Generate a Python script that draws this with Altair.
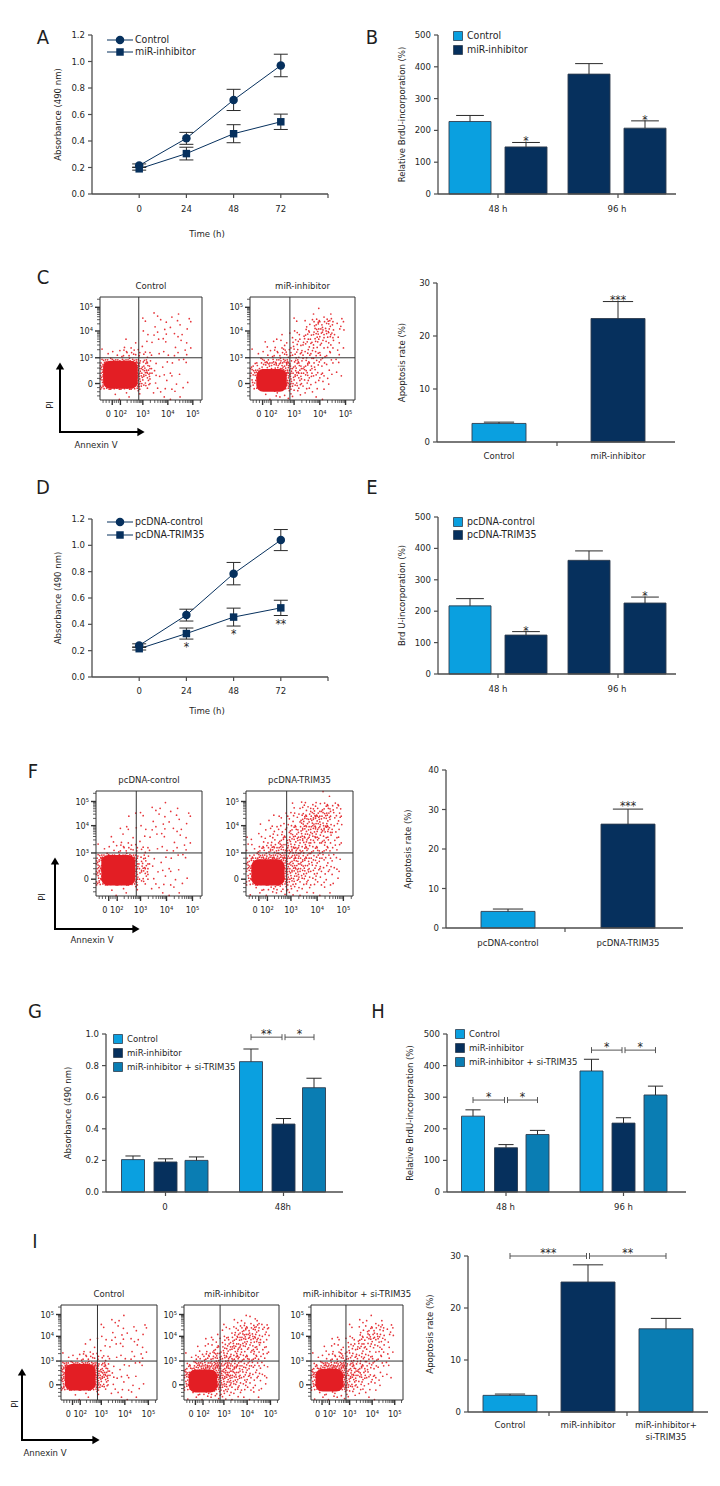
import math
import altair as alt
import pandas as pd

# ================= values =================
time_h = [0, 24, 48, 72]

# A: absorbance, miR-inhibitor
a_series = ["Control", "miR-inhibitor"]
a_mean = [[0.215, 0.42, 0.71, 0.97], [0.19, 0.305, 0.455, 0.545]]
a_err = [[0.012, 0.045, 0.08, 0.085], [0.01, 0.048, 0.068, 0.058]]

# B: BrdU incorporation
b_groups = ["48 h", "96 h"]
b_series = ["Control", "miR-inhibitor"]
b_mean = [[228, 148], [377, 207]]
b_err = [[19, 14], [33, 23]]
b_sig = [["", "*"], ["", "*"]]

# C: apoptosis rate
c_groups = ["Control", "miR-inhibitor"]
c_mean = [3.5, 23.3]
c_err = [0.25, 3.2]
c_sig = ["", "***"]

# D: absorbance, TRIM35 overexpression
d_series = ["pcDNA-control", "pcDNA-TRIM35"]
d_mean = [[0.24, 0.47, 0.785, 1.04], [0.215, 0.33, 0.455, 0.525]]
d_err = [[0.012, 0.045, 0.085, 0.08], [0.01, 0.042, 0.068, 0.058]]
d_sig = ["", "*", "*", "**"]

# E: BrdU incorporation
e_groups = ["48 h", "96 h"]
e_series = ["pcDNA-control", "pcDNA-TRIM35"]
e_mean = [[217, 124], [362, 226]]
e_err = [[23, 11], [30, 19]]
e_sig = [["", "*"], ["", "*"]]

# F: apoptosis rate
f_groups = ["pcDNA-control", "pcDNA-TRIM35"]
f_mean = [4.2, 26.3]
f_err = [0.6, 3.8]
f_sig = ["", "***"]

# G: absorbance, rescue
g_groups = ["0", "48h"]
g_series = ["Control", "miR-inhibitor", "miR-inhibitor + si-TRIM35"]
g_mean = [[0.205, 0.19, 0.2], [0.825, 0.43, 0.66]]
g_err = [[0.023, 0.02, 0.022], [0.08, 0.035, 0.06]]
g_sig = [None, ["**", "*"]]
g_sig_level = [None, 0.98]

# H: BrdU, rescue
h_groups = ["48 h", "96 h"]
h_series = ["Control", "miR-inhibitor", "miR-inhibitor + si-TRIM35"]
h_mean = [[240, 140, 182], [383, 218, 307]]
h_err = [[20, 10, 13], [37, 17, 28]]
h_sig = [["*", "*"], ["*", "*"]]
h_sig_level = [291, 449]

# I: apoptosis rate, rescue
i_groups = [["Control"], ["miR-inhibitor"], ["miR-inhibitor+", "si-TRIM35"]]
i_mean = [3.2, 25.0, 16.0]
i_err = [0.25, 3.3, 2.0]
i_sig = ["***", "**"]
i_sig_level = 30

# flow cytometry: dot density read by eye (rows top -> bottom, 0 empty .. 9 dense)
flow_c_ctrl = ["0000000000", "0000010100", "0000111110", "0000111110", "0011111110",
               "1233211110", "7999511110", "9999621100", "6999411110", "0111011100"]
flow_c_inh = ["0000000000", "0000001100", "0000124420", "0001235520", "0122344310",
              "1234443210", "3567543210", "5789543210", "4688432100", "0122211000"]
flow_f_ctrl = ["0000000000", "0000011100", "0001111110", "0011111110", "0111111110",
               "1233211110", "7999411110", "9999511100", "6999311110", "0111011100"]
flow_f_trim = ["0000000100", "0000134430", "0012356530", "0123456630", "1234565420",
               "2456654320", "5789654320", "6899654320", "5788543210", "1233321100"]
flow_i_ctrl = ["0000000000", "0000011000", "0000111110", "0001111110", "0011111110",
               "1233211110", "7999511110", "9999621100", "6999411110", "0111011100"]
flow_i_inh = ["0000000000", "0000012200", "0000234430", "0012345530", "0123454420",
              "1345554320", "4678654320", "6899654320", "5788543210", "1233321100"]
flow_i_si = ["0000000000", "0000011100", "0000123320", "0011234420", "0122343310",
             "1234443210", "4678543210", "6899543210", "5788432100", "1222211000"]
# solid cores of the live-cell populations: x0, x1, y0, y1 (percent of plot box)
core_c_ctrl = [3, 37, 11, 38]
core_c_inh = [6, 35, 8, 30]
core_f_ctrl = [5, 37, 10, 39]
core_f_trim = [5, 36, 10, 35]
core_i_ctrl = [4, 36, 10, 38]
core_i_inh = [5, 35, 8, 32]
core_i_si = [5, 35, 9, 33]

# ================= styles =================
OX = OY = 8
FONT = "DejaVu Sans Condensed, Liberation Sans Narrow, sans-serif"
FS = 9.5
LFS = 10.5
AXC = "#4d4d4d"
TXT = "#1f1f1f"
NV = "#06305d"
LB = "#0aa0e0"
MB = "#0a7db3"
RED = "#e31e24"
BSTROKE = "#2f3d4f"
ERRC = "#2a2a2a"
DOTS = [0, 2, 4, 7, 10, 14, 18, 21, 24, 24]
PATTERN = [(0.15, 0.2), (0.6, 0.7), (0.85, 0.3), (0.35, 0.85), (0.5, 0.4), (0.1, 0.6),
           (0.75, 0.9), (0.9, 0.6), (0.3, 0.45), (0.65, 0.15), (0.45, 0.65), (0.2, 0.95),
           (0.8, 0.5), (0.05, 0.35), (0.55, 0.9), (0.4, 0.1), (0.95, 0.8), (0.25, 0.7),
           (0.7, 0.35), (0.05, 0.05), (0.5, 0.55), (0.9, 0.05), (0.3, 0.3), (0.65, 0.6)]

layers = []


class Panel:
    def __init__(self, xpx, ypx, xdom, ydom):
        self.xpx, self.ypx, self.xdom, self.ydom = xpx, ypx, xdom, ydom
        self.sx = alt.Scale(domain=list(xdom), range=[xpx[0] - OX, xpx[1] - OX], nice=False, zero=False)
        self.sy = alt.Scale(domain=list(ydom), range=[ypx[0] - OY, ypx[1] - OY], nice=False, zero=False)

    def fx(self, px):
        return self.xdom[0] + (px - self.xpx[0]) * (self.xdom[1] - self.xdom[0]) / (self.xpx[1] - self.xpx[0])

    def fy(self, py):
        return self.ydom[0] + (py - self.ypx[0]) * (self.ydom[1] - self.ydom[0]) / (self.ypx[1] - self.ypx[0])

    def lx(self, n):
        return n * (self.xdom[1] - self.xdom[0]) / (self.xpx[1] - self.xpx[0])

    def ly(self, n):
        return n * (self.ydom[1] - self.ydom[0]) / (self.ypx[0] - self.ypx[1])

    def X(self, f):
        return alt.X(f, type="quantitative", scale=self.sx, axis=None)

    def Y(self, f):
        return alt.Y(f, type="quantitative", scale=self.sy, axis=None)

    def seg(self, rows, color=AXC, width=1.0):
        if not rows:
            return
        df = pd.DataFrame(rows, columns=["x", "y", "x2", "y2"])
        layers.append(alt.Chart(df).mark_rule(color=color, strokeWidth=width).encode(
            x=self.X("x"), y=self.Y("y"), x2="x2", y2="y2"))

    def rect(self, rows, stroke=None, sw=0.8, radius=0):
        if not rows:
            return
        df = pd.DataFrame(rows, columns=["x", "x2", "y", "y2", "c", "o"])
        kw = {}
        if stroke:
            kw = dict(stroke=stroke, strokeWidth=sw)
        if radius:
            kw["cornerRadius"] = radius
        layers.append(alt.Chart(df).mark_rect(**kw).encode(
            x=self.X("x"), x2="x2", y=self.Y("y"), y2="y2",
            color=alt.Color("c:N", scale=None), opacity=alt.Opacity("o:Q", scale=None)))

    def text(self, rows, size=FS, align="center", baseline="middle", dx=0, dy=0, angle=0,
             color=TXT, weight="normal"):
        df = pd.DataFrame(rows, columns=["x", "y", "t"])
        kw = dict(font=FONT, fontSize=size, align=align, baseline=baseline, dx=dx, dy=dy,
                  color=color, fontWeight=weight)
        if angle:
            kw["angle"] = angle
        layers.append(alt.Chart(df).mark_text(**kw).encode(
            x=self.X("x"), y=self.Y("y"), text="t:N"))

    def pts(self, rows, shape, size, color, opacity=1.0):
        if not rows:
            return
        df = pd.DataFrame(rows, columns=["x", "y"])
        layers.append(alt.Chart(df).mark_point(shape=shape, size=size, filled=True, color=color,
                                               opacity=opacity, strokeWidth=0).encode(
            x=self.X("x"), y=self.Y("y")))

    def line(self, rows, color, width=1.0):
        df = pd.DataFrame(rows, columns=["x", "y"])
        layers.append(alt.Chart(df).mark_line(color=color, strokeWidth=width).encode(
            x=self.X("x"), y=self.Y("y")))


def y_axis(p, ticks, fmt, dx=-7):
    x0 = p.xdom[0]
    p.seg([[x0, p.ydom[0], x0, p.ydom[1]]], AXC, 1.3)
    p.seg([[x0, v, x0 - p.lx(4), v] for v in ticks], AXC, 1.2)
    p.text([[x0, v, fmt(v)] for v in ticks], align="right", dx=dx)


def x_axis(p, ticks):
    p.seg([[p.xdom[0], p.ydom[0], p.xdom[1], p.ydom[0]]], AXC, 1.3)
    p.seg([[t, p.ydom[0], t, p.ydom[0] - p.ly(4)] for t in ticks], AXC, 1.2)


def star(p, x, y, s, dy=3, size=12):
    if s:
        p.text([[x, y, s]], size=size, baseline="alphabetic", dy=dy)


# ================= panels A and D : line charts =================
def line_panel(ypx, means, errs, names, legend_py, sig, title_dy, label_dy):
    p = Panel((92, 328), ypx, (-24, 96), (0, 1.2))
    yt = [0, 0.2, 0.4, 0.6, 0.8, 1.0, 1.2]
    y_axis(p, yt, lambda v: f"{v:.1f}")
    x_axis(p, time_h + [96])
    p.text([[t, 0, str(t)] for t in time_h], dy=label_dy)
    p.text([[p.fx(207), 0, "Time (h)"]], dy=title_dy)
    p.text([[p.fx(58), 0.6, "Absorbance (490 nm)"]], angle=270)
    shapes = ["circle", "square"]
    sizes = [72, 56]
    for s in range(2):
        p.line([[t, m] for t, m in zip(time_h, means[s])], NV, 1.0)
    for s in range(2):
        p.seg([[t, m - e, t, m + e] for t, m, e in zip(time_h, means[s], errs[s])], ERRC, 1.0)
        cap = p.lx(7)
        p.seg([[t - cap, m + e, t + cap, m + e] for t, m, e in zip(time_h, means[s], errs[s])], ERRC, 1.0)
        p.seg([[t - cap, m - e, t + cap, m - e] for t, m, e in zip(time_h, means[s], errs[s])], ERRC, 1.0)
        p.pts([[t, m] for t, m in zip(time_h, means[s])], shapes[s], sizes[s], NV)
    for s in range(2):
        ly = p.fy(legend_py[s])
        p.seg([[p.fx(107), ly, p.fx(133), ly]], NV, 1.0)
        p.pts([[p.fx(120), ly]], shapes[s], sizes[s], NV)
        p.text([[p.fx(135), ly, names[s]]], align="left", size=LFS)
    if sig:
        for t, m, e, s in zip(time_h, means[1], errs[1], sig):
            if s:
                p.text([[t, m - e, s]], size=12, baseline="top", dy=3)
    return p


line_panel((194, 35), a_mean, a_err, a_series, [40, 52], None, 40, 15)
line_panel((677, 519), d_mean, d_err, d_series, [522, 535], d_sig, 34, 14)

colors_legend = {2: [LB, NV], 3: [LB, NV, MB]}


# ================= grouped bar panels =================
def grouped_panel(xpx, ypx, ydom, yticks, fmt, groups, centers, width, means, errs, colors, sigs,
                  series, legend_px, legend_py, ytitle, ytitle_px, label_dy, group_ticks, lfs=LFS):
    p = Panel(xpx, ypx, (0, xpx[1] - xpx[0]), ydom)
    rows = []
    for gi in range(len(groups)):
        for si in range(len(means[gi])):
            c = centers[gi][si]
            rows.append([c - width / 2, c + width / 2, 0, means[gi][si], colors[gi][si], 1])
    p.rect(rows, stroke=BSTROKE, sw=0.9)
    cap = width * 0.33
    for gi in range(len(groups)):
        for si in range(len(means[gi])):
            c, m, e = centers[gi][si], means[gi][si], errs[gi][si]
            p.seg([[c, m, c, m + e], [c - cap, m + e, c + cap, m + e]], ERRC, 1.0)
            if sigs:
                star(p, c, m + e, sigs[gi][si])
    y_axis(p, yticks, fmt)
    x_axis(p, group_ticks)
    p.text([[sum(centers[gi]) / len(centers[gi]), 0, g] for gi, g in enumerate(groups)], dy=label_dy)
    p.text([[p.fx(ytitle_px), (ydom[0] + ydom[1]) / 2, ytitle]], angle=270)
    lc = colors_legend[len(series)]
    for s, name in enumerate(series):
        py = legend_py[s]
        p.rect([[p.fx(legend_px - 4.5), p.fx(legend_px + 4.5), p.fy(py + 4.5), p.fy(py - 4.5),
                 lc[s], 1]], stroke=BSTROKE, sw=0.8)
        p.text([[p.fx(legend_px + 9), p.fy(py), name]], align="left", size=lfs)
    return p


two_colors = [[LB, NV], [NV, NV]]
two_centers = [[32, 88], [151, 207]]
int_fmt = lambda v: f"{v:g}"

grouped_panel((438, 676), (194, 35), (0, 500), [0, 100, 200, 300, 400, 500], int_fmt, b_groups,
              two_centers, 42, b_mean, b_err, two_colors, b_sig, b_series, 458, [36, 50],
              "Relative BrdU-incorporation (%)", 402, 15, [60, 180])
grouped_panel((438, 676), (674, 517), (0, 500), [0, 100, 200, 300, 400, 500], int_fmt, e_groups,
              two_centers, 42, e_mean, e_err, two_colors, e_sig, e_series, 458, [522, 535],
              "Brd U-incorporation (%)", 402, 15, [60, 180])

three_colors = [[LB, NV, MB], [LB, NV, MB]]
g_centers = [[27, 59.5, 90.5], [145, 177.5, 208]]
h_centers = [[26, 59, 90.5], [144.5, 176.5, 208.5]]


def bracket_pairs(p, centers, level, labels):
    gap = p.lx(1.5)
    segs = []
    spans = [(centers[0], centers[1] - gap), (centers[1] + gap, centers[2])]
    for (a, b), lab in zip(spans, labels):
        segs += [[a, level, b, level], [a, level - p.ly(3), a, level + p.ly(3)],
                 [b, level - p.ly(3), b, level + p.ly(3)]]
        p.text([[(a + b) / 2, level, lab]], size=12, baseline="alphabetic", dy=1)
    p.seg(segs, "#555555", 1.0)


pg = grouped_panel((106, 343), (1192, 1034), (0, 1.0), [0, 0.2, 0.4, 0.6, 0.8, 1.0], lambda v: f"{v:.1f}",
                   g_groups, g_centers, 23, g_mean, g_err, three_colors, None, g_series, 118,
                   [1039, 1053, 1067], "Absorbance (490 nm)", 68, 15, [59.5, 177.5], lfs=9.5)
bracket_pairs(pg, g_centers[1], g_sig_level[1], g_sig[1])

ph = grouped_panel((447, 686), (1192, 1034), (0, 500), [0, 100, 200, 300, 400, 500], int_fmt, h_groups,
                   h_centers, 23, h_mean, h_err, three_colors, None,
                   h_series, 460, [1034, 1048, 1062], "Relative BrdU-incorporation (%)", 410, 15,
                   [59, 176.5], lfs=9.5)
bracket_pairs(ph, h_centers[0], h_sig_level[0], h_sig[0])
bracket_pairs(ph, h_centers[1], h_sig_level[1], h_sig[1])


# ================= apoptosis rate bar panels =================
def rate_panel(xpx, ypx, ydom, yticks, labels, centers, width, means, errs, colors, xticks,
               ytitle_px, label_dy):
    p = Panel(xpx, ypx, (0, xpx[1] - xpx[0]), ydom)
    p.rect([[c - width / 2, c + width / 2, 0, m, col, 1] for c, m, col in zip(centers, means, colors)],
           stroke=BSTROKE, sw=0.9)
    cap = width * 0.28
    for c, m, e in zip(centers, means, errs):
        p.seg([[c, m, c, m + e], [c - cap, m + e, c + cap, m + e]], ERRC, 1.0)
    y_axis(p, yticks, int_fmt)
    x_axis(p, xticks)
    for c, lab in zip(centers, labels):
        for k, ln in enumerate(lab):
            p.text([[c, 0, ln]], dy=label_dy + 12 * k)
    p.text([[p.fx(ytitle_px), (ydom[0] + ydom[1]) / 2, "Apoptosis rate (%)"]], angle=270)
    return p


pc = rate_panel((437, 675), (442, 283), (0, 30), [0, 10, 20, 30], [[g] for g in c_groups], [62, 181], 54,
                c_mean, c_err, [LB, NV], [120], 402, 14)
for c, m, e, s in zip([62, 181], c_mean, c_err, c_sig):
    star(pc, c, m + e, s, dy=2)

pf = rate_panel((446, 683), (928, 770), (0, 40), [0, 10, 20, 30, 40], [[g] for g in f_groups], [62, 182], 54,
                f_mean, f_err, [LB, NV], [119], 408, 15)
for c, m, e, s in zip([62, 182], f_mean, f_err, f_sig):
    star(pf, c, m + e, s, dy=1)

i_centers = [42, 120, 198]
pi = rate_panel((468, 708), (1412, 1256), (0, 30), [0, 10, 20, 30], i_groups, i_centers, 54,
                i_mean, i_err, [LB, NV, MB], [81, 159], 430, 13)
gap = pi.lx(1.5)
segs = []
for (a, b), lab in zip([(i_centers[0], i_centers[1] - gap), (i_centers[1] + gap, i_centers[2])], i_sig):
    segs += [[a, i_sig_level, b, i_sig_level], [a, i_sig_level - pi.ly(3), a, i_sig_level + pi.ly(3)],
             [b, i_sig_level - pi.ly(3), b, i_sig_level + pi.ly(3)]]
    pi.text([[(a + b) / 2, i_sig_level, lab]], size=12, baseline="alphabetic", dy=1)
pi.seg(segs, "#555555", 1.0)


# ================= flow cytometry panels =================
def logticks(a, b, upto=100):
    return [a + (b - a) * math.log10(k) for k in range(2, 10) if a + (b - a) * math.log10(k) <= upto]


def flow_panel(xpx, ypx, title, grid, core):
    p = Panel(xpx, ypx, (0, 100), (0, 100))
    nr = len(grid)
    dots = []
    for r, ln in enumerate(grid):
        nc = len(ln)
        cw, ch_ = 100 / nc, 100 / nr
        for c, chv in enumerate(ln):
            d = int(chv)
            x0, y0 = c * cw, 100 - (r + 1) * ch_
            start = (r * 7 + c * 5) % len(PATTERN)
            for k in range(DOTS[d]):
                fxp, fyp = PATTERN[(start + k) % len(PATTERN)]
                dots.append([x0 + fxp * cw, y0 + fyp * ch_])
    p.pts(dots, "circle", 3.0, RED, 0.9)
    p.rect([[core[0], core[1], core[2], core[3], RED, 1.0]], radius=7)
    p.seg([[0, 0, 100, 0], [100, 0, 100, 100], [100, 100, 0, 100], [0, 100, 0, 0]], "#333333", 1.0)
    p.seg([[38, 0, 38, 100], [0, 41, 100, 41]], "#333333", 1.0)
    ymaj = [16, 41, 67, 90]
    ylab = ["0", "10\u00b3", "10\u2074", "10\u2075"]
    ymin = logticks(41, 67) + logticks(67, 90) + logticks(90, 116) + [4, 8, 12, 21, 26, 31, 36]
    xmaj = [12, 20, 42, 66.5, 91]
    xmin = logticks(20, 42) + logticks(42, 66.5) + logticks(66.5, 91) + logticks(91, 115.5) + [3, 6, 9, 14, 16, 18]
    p.seg([[0, v, -p.lx(5), v] for v in ymaj], "#333333", 1.4)
    p.seg([[0, v, -p.lx(3), v] for v in ymin], "#333333", 0.8)
    p.seg([[v, 0, v, -p.ly(5)] for v in xmaj], "#333333", 1.4)
    p.seg([[v, 0, v, -p.ly(3)] for v in xmin], "#333333", 0.8)
    p.text([[0, v, l] for v, l in zip(ymaj, ylab)], align="right", dx=-7, size=9)
    p.text([[16, 0, "0 10\u00b2"], [42, 0, "10\u00b3"], [66.5, 0, "10\u2074"], [91, 0, "10\u2075"]],
           dy=14, size=9)
    p.text([[50, 100, title]], dy=-11, size=FS)
    return p


flow_panel((100, 202), (400, 297), "Control", flow_c_ctrl, core_c_ctrl)
flow_panel((250, 355), (400, 297), "miR-inhibitor", flow_c_inh, core_c_inh)
flow_panel((96, 202), (896, 791), "pcDNA-control", flow_f_ctrl, core_f_ctrl)
flow_panel((246, 353), (896, 791), "pcDNA-TRIM35", flow_f_trim, core_f_trim)
flow_panel((61, 157), (1400, 1305), "Control", flow_i_ctrl, core_i_ctrl)
flow_panel((184, 279), (1400, 1305), "miR-inhibitor", flow_i_inh, core_i_inh)
flow_panel((311, 403), (1400, 1305), "miR-inhibitor + si-TRIM35", flow_i_si, core_i_si)

# ================= page-level annotations (letters, PI / Annexin V arrows) =================
page = Panel((0, 720), (0, 1486), (0, 720), (0, 1486))
letters = [("A", 43, 38), ("B", 372, 38), ("C", 43, 278), ("D", 43, 488), ("E", 372, 488),
           ("F", 33, 772), ("G", 35, 1012), ("H", 378, 1012), ("I", 35, 1242)]
for t, x, y in letters:
    page.text([[x, y, t]], size=20)

arrows = [(60, 432, 362, 145, 50, 405, 96, 445),
          (55, 929, 857, 140, 42, 897, 92, 940),
          (22, 1440, 1368, 100, 15, 1404, 45, 1453)]
for ax_, ay_, ytip, xtip, pix, piy, anx, any_ in arrows:
    page.seg([[ax_, ay_, ax_, ytip + 6], [ax_ - 1, ay_, xtip - 6, ay_]], "#000000", 2.0)
    page.pts([[ax_, ytip + 4]], "triangle-up", 70, "#000000")
    page.pts([[xtip - 4, ay_]], "triangle-right", 70, "#000000")
    page.text([[pix, piy, "PI"]], angle=270, size=FS)
    page.text([[anx, any_, "Annexin V"]], size=FS)

chart = alt.layer(*layers).resolve_scale(x="independent", y="independent").properties(
    width=704, height=1470, padding=0, autosize=alt.AutoSizeParams(type="none")
).configure_view(stroke=None)

chart.save("out.html", embed_options={"renderer": "svg", "actions": False})
